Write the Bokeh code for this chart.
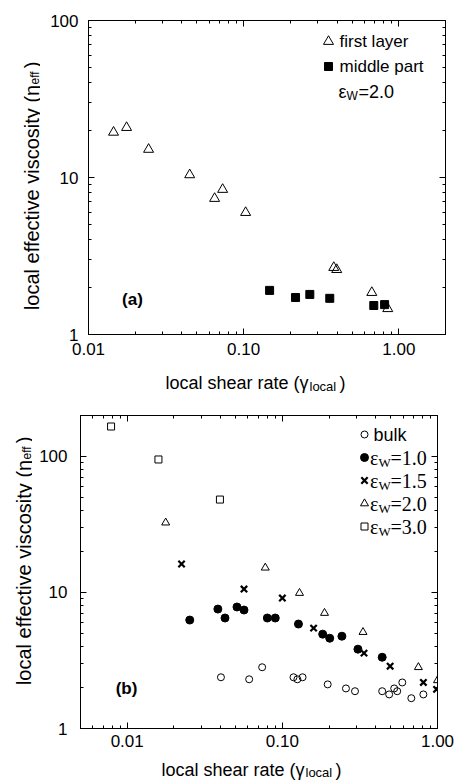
import math
from bokeh.plotting import figure
from bokeh.models import (Range1d, LogAxis, FixedTicker, Label,
                          PrintfTickFormatter, CustomJSTickFormatter)
from bokeh.layouts import column, row
from bokeh.embed import file_html
from bokeh.resources import INLINE

# ---------------- data: panel (a), eps_W = 2.0 ----------------
first_layer_x = [0.0145, 0.0176, 0.0244, 0.0449, 0.065, 0.0732, 0.103, 0.381, 0.398, 0.67, 0.849]
first_layer_y = [19.4, 20.8, 15.1, 10.4, 7.35, 8.39, 5.98, 2.67, 2.59, 1.85, 1.46]
middle_x = [0.147, 0.216, 0.267, 0.359, 0.69, 0.81]
middle_y = [1.91, 1.72, 1.80, 1.70, 1.53, 1.55]

# ---------------- data: panel (b) ----------------
bulk_x = [0.0402, 0.0611, 0.0741, 0.118, 0.125, 0.135, 0.196, 0.257, 0.294,
          0.440, 0.488, 0.526, 0.550, 0.593, 0.678, 0.811]
bulk_y = [2.38, 2.30, 2.82, 2.38, 2.30, 2.38, 2.11, 1.97, 1.88,
          1.88, 1.78, 1.97, 1.88, 2.18, 1.67, 1.78]
ew10_x = [0.0253, 0.0384, 0.0427, 0.0510, 0.0566, 0.080, 0.090, 0.127, 0.182,
          0.202, 0.242, 0.307, 0.440]
ew10_y = [6.27, 7.55, 6.49, 7.82, 7.43, 6.49, 6.49, 5.86, 4.94,
          4.61, 4.77, 3.83, 3.34]
ew15_x = [0.0224, 0.0566, 0.100, 0.159, 0.336, 0.495, 0.811, 0.986]
ew15_y = [16.2, 10.6, 9.1, 5.47, 3.58, 2.87, 2.18, 1.94]
ew20_x = [0.0177, 0.0776, 0.129, 0.187, 0.331, 0.753, 1.0]
ew20_y = [32.6, 15.2, 9.9, 7.06, 5.11, 2.82, 2.26]
ew30_x = [0.00787, 0.0159, 0.0396]
ew30_y = [166, 95, 48.2]

legend_b = ["=1.0", "=1.5", "=2.0", "=3.0"]

# tick values / ranges
x_ticks = [0.01, 0.1, 1.0]
y_ticks = [1, 10, 100]
top_xrange = (0.01, 2.0)
top_yrange = (1, 100)
bot_xrange = (0.005, 1.0)
bot_yrange = (1, 200)

SANS = "Liberation Sans"
SERIF = "Liberation Serif"
NB = "\u00a0"
YTITLE = "local effective viscosity (η" + NB * 3 + ")"


def minors(lo, hi):
    return [m * 10.0 ** e for e in range(lo, hi) for m in range(2, 10)]


def style_axis(ax, ticks, minor, fmt, show, standoff=10):
    ax.ticker = FixedTicker(ticks=ticks, minor_ticks=minor)
    if show:
        ax.formatter = PrintfTickFormatter(format=fmt)
        ax.major_label_standoff = standoff
    else:
        ax.formatter = CustomJSTickFormatter(code="return ''")
        ax.major_label_standoff = 0
    ax.major_tick_in = 6
    ax.major_tick_out = 0
    ax.minor_tick_in = 3
    ax.minor_tick_out = 0
    ax.axis_line_color = "black"
    ax.major_tick_line_color = "black"
    ax.minor_tick_line_color = "black"
    ax.major_label_text_font = SANS
    ax.major_label_text_font_size = "17px"
    ax.major_label_text_color = "black"


def make_panel(width, height, xr, yr, bl, br, bt, bb, xstand, ystand):
    p = figure(width=width, height=height, x_axis_type="log", y_axis_type="log",
               x_range=Range1d(*xr), y_range=Range1d(*yr),
               output_backend="svg", toolbar_location=None,
               min_border_left=bl, min_border_right=br,
               min_border_top=bt, min_border_bottom=bb)
    p.grid.visible = False
    p.outline_line_color = "black"
    p.outline_line_width = 1
    p.background_fill_color = "white"
    p.border_fill_color = "white"
    style_axis(p.below[0], x_ticks, minors(-3, 1), "%.2f", True, xstand)
    style_axis(p.left[0], y_ticks, minors(0, 3), "%d", True, ystand)
    top = LogAxis()
    style_axis(top, x_ticks, minors(-3, 1), "", False)
    p.add_layout(top, "above")
    right = LogAxis()
    style_axis(right, y_ticks, minors(0, 3), "", False)
    p.add_layout(right, "right")
    return p


def label_fig(width, height, bt=0, bb=0):
    f = figure(width=width, height=height, x_range=Range1d(0, 1), y_range=Range1d(0, 1),
               output_backend="svg", toolbar_location=None,
               x_axis_location=None, y_axis_location=None,
               min_border_left=0, min_border_right=0,
               min_border_top=bt, min_border_bottom=bb)
    f.xgrid.visible = False
    f.ygrid.visible = False
    f.outline_line_color = None
    f.background_fill_color = "white"
    f.border_fill_color = "white"
    return f


def txt(p, frame, px, py, text, size, font=SANS, align="left",
        baseline="alphabetic", angle=0.0, style="normal"):
    # frame = (left, bottom) of the drawing frame, in page pixels
    fl, fb = frame
    p.add_layout(Label(x=px - fl, y=fb - py, x_units="screen", y_units="screen",
                       text=text, text_font=font, text_font_size=f"{size}px",
                       text_align=align, text_baseline=baseline, angle=angle,
                       text_font_style=style, text_color="black"))


def to_data(px, py, frame, fw, fh, xr, yr):
    fl, fb = frame
    lx0, lx1 = math.log10(xr[0]), math.log10(xr[1])
    ly0, ly1 = math.log10(yr[0]), math.log10(yr[1])
    return (10 ** (lx0 + (px - fl) / fw * (lx1 - lx0)),
            10 ** (ly0 + (fb - py) / fh * (ly1 - ly0)))


# ======================= panel (a) =======================
p1 = make_panel(417, 362, top_xrange, top_yrange, 48, 12, 20, 28, 8, 10)
F1 = (88, 334)

p1.scatter(first_layer_x, first_layer_y, marker="triangle", size=10,
           line_color="black", fill_color=None, line_width=1)
p1.scatter(middle_x, middle_y, marker="square", size=8,
           line_color="black", fill_color="black")

lx, ly = to_data(328, 41, F1, 357, 314, top_xrange, top_yrange)
p1.scatter([lx], [ly], marker="triangle", size=10, line_color="black",
           fill_color=None, line_width=1)
lx, ly = to_data(328, 66, F1, 357, 314, top_xrange, top_yrange)
p1.scatter([lx], [ly], marker="square", size=8, line_color="black",
           fill_color="black")
txt(p1, F1, 339, 41, "first layer", 17, baseline="middle")
txt(p1, F1, 339, 66, "middle part", 17, baseline="middle")
txt(p1, F1, 346, 91, "ε", 18, align="right", baseline="middle")
txt(p1, F1, 346, 95, "W", 12, baseline="middle")
txt(p1, F1, 358, 91, "=2.0", 18, baseline="middle")
txt(p1, F1, 132, 299, "(a)", 17, align="center", baseline="middle", style="bold")

# y title: frame aligned with the panel frame (20..334)
yl1 = label_fig(40, 362, 20, 28)
Y1 = (0, 334)
txt(yl1, Y1, 31, 61, YTITLE, 20, align="right", angle=math.pi / 2)
txt(yl1, Y1, 34, 84, "eff", 12, angle=math.pi / 2)

xl1 = label_fig(457, 31)
X1 = (0, 393)
txt(xl1, X1, 308, 382, "local shear rate (γ", 18, align="right")
txt(xl1, X1, 309, 386, "local", 13)
txt(xl1, X1, 339, 382, ")", 18)

# ======================= panel (b) =======================
p2 = make_panel(425, 361, bot_xrange, bot_yrange, 48, 20, 22, 26, 6, 13)
F2 = (80, 728)

p2.scatter(bulk_x, bulk_y, marker="circle", size=7, line_color="black",
           fill_color=None, line_width=1)
p2.scatter(ew10_x, ew10_y, marker="circle", size=8, line_color="black",
           fill_color="black")
p2.scatter(ew15_x, ew15_y, marker="x", size=9, line_color="black", line_width=2.2)
p2.scatter(ew20_x, ew20_y, marker="triangle", size=8, line_color="black",
           fill_color=None, line_width=1)
p2.scatter(ew30_x, ew30_y, marker="square", size=7, line_color="black",
           fill_color=None, line_width=1)

rows = [434, 457, 480, 503, 526]
styles = [dict(marker="circle", size=7, line_color="black", fill_color=None, line_width=1),
          dict(marker="circle", size=8, line_color="black", fill_color="black"),
          dict(marker="x", size=9, line_color="black", line_width=2.2),
          dict(marker="triangle", size=8, line_color="black", fill_color=None, line_width=1),
          dict(marker="square", size=7, line_color="black", fill_color=None, line_width=1)]
for ry, st in zip(rows, styles):
    lx, ly = to_data(364, ry, F2, 357, 313, bot_xrange, bot_yrange)
    p2.scatter([lx], [ly], **st)

txt(p2, F2, 373, rows[0], "bulk", 18, baseline="middle")
for ry, lab in zip(rows[1:], legend_b):
    txt(p2, F2, 378, ry, "ε", 20, font=SERIF, align="right", baseline="middle")
    txt(p2, F2, 378, ry + 5, "W", 13, font=SERIF, baseline="middle")
    txt(p2, F2, 390, ry, lab, 20, font=SERIF, baseline="middle")
txt(p2, F2, 126, 688, "(b)", 17, align="center", baseline="middle", style="bold")

yl2 = label_fig(32, 361, 22, 26)
Y2 = (0, 728)
txt(yl2, Y2, 23, 436, YTITLE, 20, align="right", angle=math.pi / 2)
txt(yl2, Y2, 26, 459, "eff", 12, angle=math.pi / 2)

xl2 = label_fig(457, 26)
X2 = (0, 780)
txt(xl2, X2, 304, 769, "local shear rate (γ", 18, align="right")
txt(xl2, X2, 305, 772, "local", 13)
txt(xl2, X2, 335, 769, ")", 18)

layout = column(row(yl1, p1, spacing=0), xl1, row(yl2, p2, spacing=0), xl2, spacing=0)
open("out.html", "w").write(file_html(layout, INLINE))
